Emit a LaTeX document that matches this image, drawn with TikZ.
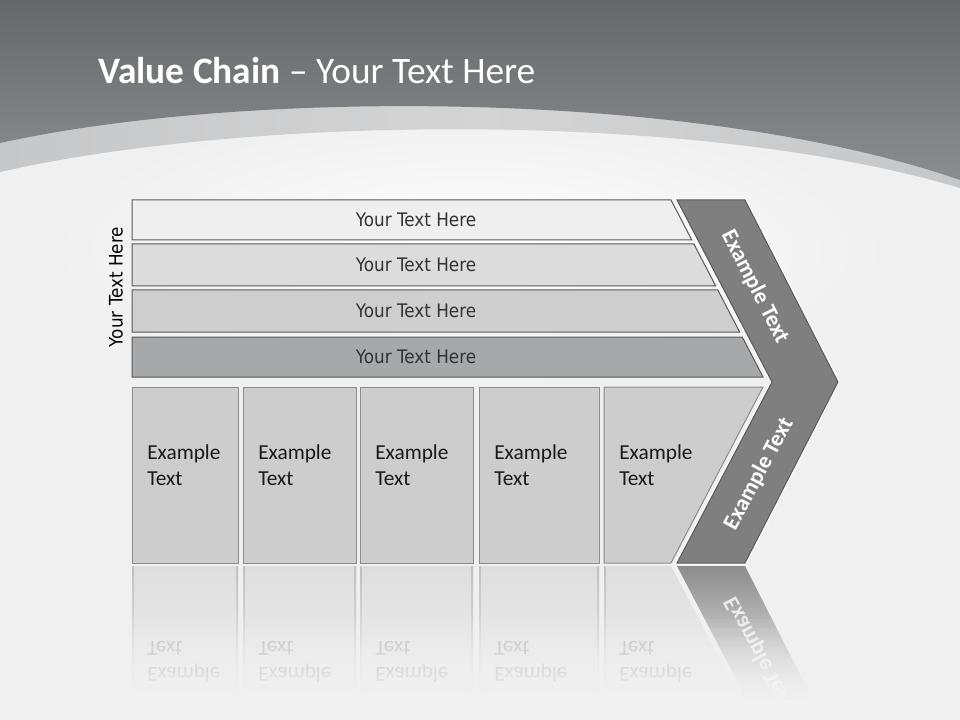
\documentclass[tikz,border=0pt]{standalone}
\usepackage{fontspec}
\setmainfont{Carlito}
\newfontfamily\barfont[FakeStretch=0.9]{DejaVu Sans}
\definecolor{topdark}{HTML}{66676A}
\definecolor{topmid}{HTML}{8C8D91}
\definecolor{bandgrey}{HTML}{C6C7C8}
\definecolor{bandlight}{HTML}{D4D4D5}
\definecolor{bgwhite}{HTML}{F0F0F0}
\definecolor{barA}{HTML}{EFEFEF}
\definecolor{barB}{HTML}{DCDCDD}
\definecolor{barC}{HTML}{CECECF}
\definecolor{barD}{HTML}{A7A8A9}
\definecolor{boxgrey}{HTML}{CDCDCD}
\definecolor{chevgrey}{HTML}{7F7F7F}
\begin{document}
\begin{tikzpicture}[x=0.75pt,y=-0.75pt]
  \tikzset{
    bartext/.style={font=\barfont\fontsize{14}{17}\selectfont,text=black!80},
    boxtext/.style={font=\fontsize{16}{19.5}\selectfont,align=left,anchor=west,inner sep=0pt,text=black!90},
    chevtext/.style={font=\bfseries\fontsize{17}{20}\selectfont,text=white},
    refltext/.style={text=black!24},
    barline/.style={draw=black!65,line width=0.75pt},
    boxline/.style={draw=black!45,fill=boxgrey,line width=0.75pt},
    chevline/.style={draw=black!65,fill=chevgrey,line width=0.75pt},
    reflfill/.style={top color=black!13,bottom color=bgwhite},
    refledge/.style={top color=black!25,bottom color=bgwhite},
  }
  \useasboundingbox (0,0) rectangle (960,720);
  % background
  \fill[bgwhite] (0,0) rectangle (960,720);
  \shade[inner color=white,outer color=bgwhite] (470,250) ellipse [x radius=420,y radius=140];
  \shade[left color=bandgrey,right color=bandgrey,middle color=bandlight]
    (0,0) -- (960,0) -- (960,188) .. controls (700,110) and (250,115) .. (0,172) -- cycle;
  \shade[top color=topdark,bottom color=topmid]
    (0,0) -- (960,0) -- (960,180) .. controls (700,90) and (250,88) .. (0,143) -- cycle;
  \node[anchor=base west,inner sep=0pt,text=white,font=\fontsize{28}{34}\selectfont] (title) at (98,84)
    {\textbf{Value Chain} -- Your Text Here};

  % bars
  \foreach \t/\b/\c [count=\i] in {200/240/barA,244/286/barB,290/332/barC,337/377/barD}{
    \draw[barline,fill=\c] (132,\t) -- ({671+0.52*(\t-200)},\t) -- ({671+0.52*(\b-200)},\b) -- (132,\b) -- cycle;
    \node[bartext] (bar\i) at (416,{(\t+\b)/2}) {Your Text Here};
  }
  \node[bartext,text=black,rotate=90] (side) at (116,287) {Your Text Here};

  % boxes and their reflections
  \foreach \l/\r [count=\i] in {132/238,243/356,360/473,479/599}{
    \draw[boxline] (\l,387) rectangle (\r,563);
    \node[boxtext] (box\i) at (\l+15,465) {Example\\Text};
    \shade[reflfill] (\l,566) rectangle (\r,695);
    \shade[refledge] (\l,566) rectangle (\l+1.3,695);
    \shade[refledge] (\r-1.3,566) rectangle (\r,695);
    \node[boxtext,refltext,yscale=-1] (box\i r) at (\l+15,662) {Example\\Text};
  }
  \draw[boxline] (604,387) -- (763,387) -- (671,563) -- (604,563) -- cycle;
  \node[boxtext] (box5) at (619,465) {Example\\Text};
  \shade[reflfill] (604,566) -- (671,566) -- (739,695) -- (604,695) -- cycle;
  \shade[refledge] (604,566) rectangle (605.3,695);
  \node[boxtext,refltext,yscale=-1] (box5r) at (619,662) {Example\\Text};

  % chevron
  \shade[top color=black!45,bottom color=bgwhite] (677,566) -- (745,566) -- (813,700) -- (747,700) -- cycle;
  \node[chevtext,text opacity=0.75,rotate=-62,yscale=-1] (chevdnr) at (759,653) {Example Text};
  \foreach \k in {1,...,10}
    \fill[bgwhite,opacity=0.09*\k] (120,{610+9*\k}) rectangle (870,{619+9*\k});
  \fill[bgwhite] (120,709) rectangle (870,720);
  \draw[white,line width=2.5pt,line join=miter] (677,200) -- (745,200) -- (838,382) -- (745,563) -- (677,563) -- (772,382) -- cycle;
  \draw[chevline] (677,200) -- (745,200) -- (838,382) -- (745,563) -- (677,563) -- (772,382) -- cycle;
  \node[chevtext,rotate=-63] (chevup) at (755,287) {Example Text};
  \node[chevtext,rotate=62] (chevdn) at (759,474) {Example Text};
\end{tikzpicture}
\end{document}
